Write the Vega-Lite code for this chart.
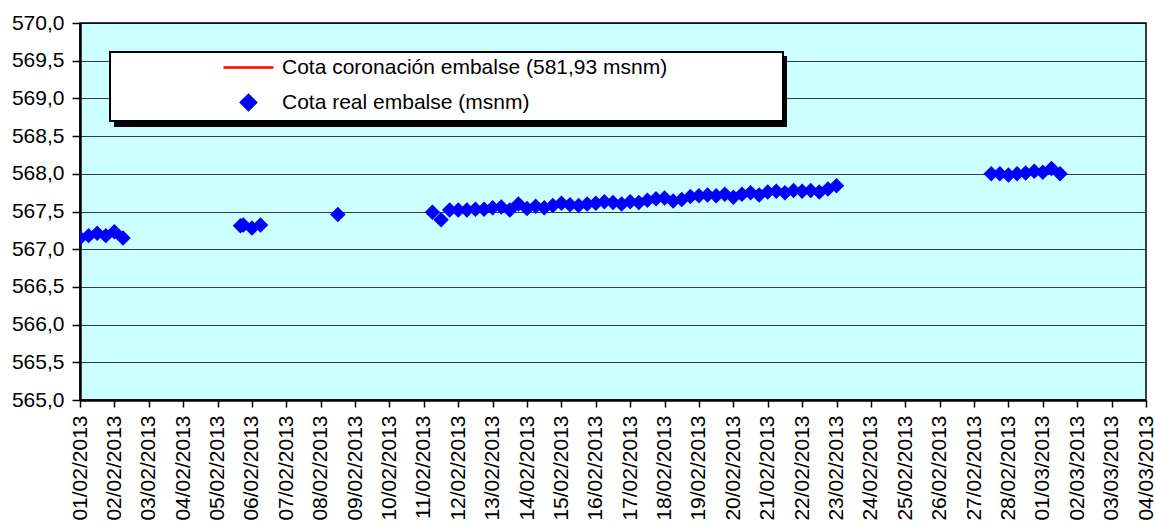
{
  "$schema": "https://vega.github.io/schema/vega-lite/v6.json",
  "width": 1066,
  "height": 377,
  "autosize": "none",
  "padding": {"left": 80, "top": 23, "right": 9, "bottom": 123},
  "background": "#ffffff",
  "config": {
    "font": "Liberation Sans",
    "view": {"fill": "#CCFFFF", "stroke": "#000000", "strokeWidth": 1.5}
  },
  "datasets": {
    "real": [
      {"fecha": "2013-02-01T00:00:00Z", "cota": 567.15, "serie": "Cota real embalse (msnm)"},
      {"fecha": "2013-02-01T06:00:00Z", "cota": 567.18, "serie": "Cota real embalse (msnm)"},
      {"fecha": "2013-02-01T12:00:00Z", "cota": 567.21, "serie": "Cota real embalse (msnm)"},
      {"fecha": "2013-02-01T18:00:00Z", "cota": 567.18, "serie": "Cota real embalse (msnm)"},
      {"fecha": "2013-02-02T00:00:00Z", "cota": 567.23, "serie": "Cota real embalse (msnm)"},
      {"fecha": "2013-02-02T06:00:00Z", "cota": 567.15, "serie": "Cota real embalse (msnm)"},
      {"fecha": "2013-02-05T16:00:00Z", "cota": 567.31, "serie": "Cota real embalse (msnm)"},
      {"fecha": "2013-02-05T18:00:00Z", "cota": 567.32, "serie": "Cota real embalse (msnm)"},
      {"fecha": "2013-02-06T00:00:00Z", "cota": 567.28, "serie": "Cota real embalse (msnm)"},
      {"fecha": "2013-02-06T06:00:00Z", "cota": 567.32, "serie": "Cota real embalse (msnm)"},
      {"fecha": "2013-02-08T12:00:00Z", "cota": 567.46, "serie": "Cota real embalse (msnm)"},
      {"fecha": "2013-02-11T06:00:00Z", "cota": 567.49, "serie": "Cota real embalse (msnm)"},
      {"fecha": "2013-02-11T12:00:00Z", "cota": 567.39, "serie": "Cota real embalse (msnm)"},
      {"fecha": "2013-02-11T18:00:00Z", "cota": 567.52, "serie": "Cota real embalse (msnm)"},
      {"fecha": "2013-02-12T00:00:00Z", "cota": 567.52, "serie": "Cota real embalse (msnm)"},
      {"fecha": "2013-02-12T06:00:00Z", "cota": 567.52, "serie": "Cota real embalse (msnm)"},
      {"fecha": "2013-02-12T12:00:00Z", "cota": 567.53, "serie": "Cota real embalse (msnm)"},
      {"fecha": "2013-02-12T18:00:00Z", "cota": 567.53, "serie": "Cota real embalse (msnm)"},
      {"fecha": "2013-02-13T00:00:00Z", "cota": 567.55, "serie": "Cota real embalse (msnm)"},
      {"fecha": "2013-02-13T06:00:00Z", "cota": 567.56, "serie": "Cota real embalse (msnm)"},
      {"fecha": "2013-02-13T12:00:00Z", "cota": 567.52, "serie": "Cota real embalse (msnm)"},
      {"fecha": "2013-02-13T18:00:00Z", "cota": 567.60, "serie": "Cota real embalse (msnm)"},
      {"fecha": "2013-02-14T00:00:00Z", "cota": 567.54, "serie": "Cota real embalse (msnm)"},
      {"fecha": "2013-02-14T06:00:00Z", "cota": 567.57, "serie": "Cota real embalse (msnm)"},
      {"fecha": "2013-02-14T12:00:00Z", "cota": 567.55, "serie": "Cota real embalse (msnm)"},
      {"fecha": "2013-02-14T18:00:00Z", "cota": 567.58, "serie": "Cota real embalse (msnm)"},
      {"fecha": "2013-02-15T00:00:00Z", "cota": 567.61, "serie": "Cota real embalse (msnm)"},
      {"fecha": "2013-02-15T06:00:00Z", "cota": 567.59, "serie": "Cota real embalse (msnm)"},
      {"fecha": "2013-02-15T12:00:00Z", "cota": 567.58, "serie": "Cota real embalse (msnm)"},
      {"fecha": "2013-02-15T18:00:00Z", "cota": 567.60, "serie": "Cota real embalse (msnm)"},
      {"fecha": "2013-02-16T00:00:00Z", "cota": 567.61, "serie": "Cota real embalse (msnm)"},
      {"fecha": "2013-02-16T06:00:00Z", "cota": 567.63, "serie": "Cota real embalse (msnm)"},
      {"fecha": "2013-02-16T12:00:00Z", "cota": 567.62, "serie": "Cota real embalse (msnm)"},
      {"fecha": "2013-02-16T18:00:00Z", "cota": 567.60, "serie": "Cota real embalse (msnm)"},
      {"fecha": "2013-02-17T00:00:00Z", "cota": 567.63, "serie": "Cota real embalse (msnm)"},
      {"fecha": "2013-02-17T06:00:00Z", "cota": 567.62, "serie": "Cota real embalse (msnm)"},
      {"fecha": "2013-02-17T12:00:00Z", "cota": 567.65, "serie": "Cota real embalse (msnm)"},
      {"fecha": "2013-02-17T18:00:00Z", "cota": 567.67, "serie": "Cota real embalse (msnm)"},
      {"fecha": "2013-02-18T00:00:00Z", "cota": 567.68, "serie": "Cota real embalse (msnm)"},
      {"fecha": "2013-02-18T06:00:00Z", "cota": 567.64, "serie": "Cota real embalse (msnm)"},
      {"fecha": "2013-02-18T12:00:00Z", "cota": 567.66, "serie": "Cota real embalse (msnm)"},
      {"fecha": "2013-02-18T18:00:00Z", "cota": 567.70, "serie": "Cota real embalse (msnm)"},
      {"fecha": "2013-02-19T00:00:00Z", "cota": 567.71, "serie": "Cota real embalse (msnm)"},
      {"fecha": "2013-02-19T06:00:00Z", "cota": 567.72, "serie": "Cota real embalse (msnm)"},
      {"fecha": "2013-02-19T12:00:00Z", "cota": 567.71, "serie": "Cota real embalse (msnm)"},
      {"fecha": "2013-02-19T18:00:00Z", "cota": 567.73, "serie": "Cota real embalse (msnm)"},
      {"fecha": "2013-02-20T00:00:00Z", "cota": 567.69, "serie": "Cota real embalse (msnm)"},
      {"fecha": "2013-02-20T06:00:00Z", "cota": 567.73, "serie": "Cota real embalse (msnm)"},
      {"fecha": "2013-02-20T12:00:00Z", "cota": 567.75, "serie": "Cota real embalse (msnm)"},
      {"fecha": "2013-02-20T18:00:00Z", "cota": 567.72, "serie": "Cota real embalse (msnm)"},
      {"fecha": "2013-02-21T00:00:00Z", "cota": 567.76, "serie": "Cota real embalse (msnm)"},
      {"fecha": "2013-02-21T06:00:00Z", "cota": 567.77, "serie": "Cota real embalse (msnm)"},
      {"fecha": "2013-02-21T12:00:00Z", "cota": 567.75, "serie": "Cota real embalse (msnm)"},
      {"fecha": "2013-02-21T18:00:00Z", "cota": 567.78, "serie": "Cota real embalse (msnm)"},
      {"fecha": "2013-02-22T00:00:00Z", "cota": 567.77, "serie": "Cota real embalse (msnm)"},
      {"fecha": "2013-02-22T06:00:00Z", "cota": 567.78, "serie": "Cota real embalse (msnm)"},
      {"fecha": "2013-02-22T12:00:00Z", "cota": 567.76, "serie": "Cota real embalse (msnm)"},
      {"fecha": "2013-02-22T18:00:00Z", "cota": 567.80, "serie": "Cota real embalse (msnm)"},
      {"fecha": "2013-02-23T00:00:00Z", "cota": 567.84, "serie": "Cota real embalse (msnm)"},
      {"fecha": "2013-02-27T12:00:00Z", "cota": 568.00, "serie": "Cota real embalse (msnm)"},
      {"fecha": "2013-02-27T18:00:00Z", "cota": 568.00, "serie": "Cota real embalse (msnm)"},
      {"fecha": "2013-02-28T00:00:00Z", "cota": 567.985, "serie": "Cota real embalse (msnm)"},
      {"fecha": "2013-02-28T06:00:00Z", "cota": 568.00, "serie": "Cota real embalse (msnm)"},
      {"fecha": "2013-02-28T12:00:00Z", "cota": 568.01, "serie": "Cota real embalse (msnm)"},
      {"fecha": "2013-02-28T18:00:00Z", "cota": 568.035, "serie": "Cota real embalse (msnm)"},
      {"fecha": "2013-03-01T00:00:00Z", "cota": 568.02, "serie": "Cota real embalse (msnm)"},
      {"fecha": "2013-03-01T06:00:00Z", "cota": 568.07, "serie": "Cota real embalse (msnm)"},
      {"fecha": "2013-03-01T12:00:00Z", "cota": 568.00, "serie": "Cota real embalse (msnm)"}
    ],
    "coronacion": [
      {"fecha": "2013-02-01T00:00:00Z", "cota": 581.93, "serie": "Cota coronación embalse (581,93 msnm)"},
      {"fecha": "2013-03-04T00:00:00Z", "cota": 581.93, "serie": "Cota coronación embalse (581,93 msnm)"}
    ]
  },
  "encoding": {
    "x": {
      "field": "fecha",
      "type": "temporal",
      "title": null,
      "scale": {
        "type": "utc",
        "domain": [
          {"year": 2013, "month": 2, "date": 1, "utc": true},
          {"year": 2013, "month": 3, "date": 4, "utc": true}
        ]
      },
      "axis": {
        "labelExpr": "utcFormat(datum.value, '%d/%m/%Y')",
        "tickCount": {"interval": "day", "step": 1},
        "labelAngle": -90,
        "labelFontSize": 21,
        "labelColor": "#000000",
        "labelPadding": 8,
        "labelOverlap": false,
        "labelFlush": false,
        "grid": false,
        "domainColor": "#000000",
        "domainWidth": 2.5,
        "tickColor": "#000000",
        "tickWidth": 1.5,
        "tickSize": 7
      }
    },
    "y": {
      "field": "cota",
      "type": "quantitative",
      "title": null,
      "scale": {"domain": [565, 570], "nice": false, "zero": false},
      "axis": {
        "values": [565, 565.5, 566, 566.5, 567, 567.5, 568, 568.5, 569, 569.5, 570],
        "labelExpr": "replace(format(datum.value, '.1f'), '.', ',')",
        "labelFontSize": 21,
        "labelColor": "#000000",
        "labelPadding": 8,
        "grid": true,
        "gridColor": "#000000",
        "gridWidth": 1,
        "gridOpacity": 0.75,
        "domainColor": "#000000",
        "domainWidth": 2.5,
        "tickColor": "#000000",
        "tickWidth": 1.5,
        "tickSize": 8
      }
    },
    "color": {
      "field": "serie",
      "type": "nominal",
      "scale": {
        "domain": ["Cota coronación embalse (581,93 msnm)", "Cota real embalse (msnm)"],
        "range": ["#FF0000", "#0000FF"]
      },
      "legend": {
        "title": "\u00a0",
        "titleOrient": "right",
        "titlePadding": 111,
        "titleColor": "#ffffff",
        "titleFontSize": 10,
        "orient": "none",
        "legendX": 30,
        "legendY": 29,
        "zindex": 2,
        "direction": "vertical",
        "fillColor": "#ffffff",
        "strokeColor": "#000000",
        "padding": 5,
        "symbolOffset": 123,
        "symbolSize": 230,
        "labelOffset": 23,
        "rowPadding": 11,
        "labelFontSize": 21,
        "labelColor": "#000000",
        "labelLimit": 1000,
        "encode": {
          "legend": {
            "update": {
              "strokeWidth": {"value": 2}
            }
          },
          "symbols": {
            "update": {
              "shape": {"signal": "datum.value === 'Cota real embalse (msnm)' ? 'diamond' : 'M-3.3,0L3.3,0'"},
              "size": {"value": 230},
              "fill": {"signal": "datum.value === 'Cota real embalse (msnm)' ? '#0000FF' : 'transparent'"},
              "stroke": {"signal": "datum.value === 'Cota real embalse (msnm)' ? 'transparent' : '#FF0000'"},
              "strokeWidth": {"value": 2.5},
              "opacity": {"value": 1},
              "fillOpacity": {"value": 1},
              "strokeOpacity": {"value": 1}
            }
          }
        }
      }
    }
  },
  "layer": [
    {
      "data": {"name": "coronacion"},
      "mark": {"type": "line", "clip": true, "strokeWidth": 2.5},
      "encoding": {
        "strokeDash": {
          "field": "serie",
          "type": "nominal",
          "scale": {
            "domain": ["Cota real embalse (msnm)", "Cota coronación embalse (581,93 msnm)"],
            "range": [[1, 0], [1, 0]]
          },
          "legend": {
            "title": "\u00a0",
            "titleOrient": "right",
            "titlePadding": 494,
            "titleColor": "#000000",
            "titleFontSize": 10,
            "orient": "none",
            "legendX": 35,
            "legendY": 34,
            "zindex": 1,
            "direction": "vertical",
            "fillColor": "#000000",
            "strokeColor": "#000000",
            "padding": 5,
            "symbolOffset": 123,
            "symbolSize": 230,
            "labelOffset": 23,
            "rowPadding": 8,
            "labelFontSize": 21,
            "labelColor": "#000000",
            "labelLimit": 1000,
            "labelExpr": "'\u00a0'",
            "encode": {
              "legend": {
                "update": {
                  "strokeWidth": {"value": 2}
                }
              },
              "symbols": {
                "update": {
                  "shape": {"value": "square"},
                  "size": {"value": 230},
                  "fill": {"value": "#000000"},
                  "stroke": {"value": "#000000"},
                  "strokeWidth": {"value": 2.5}
                }
              }
            }
          }
        }
      }
    },
    {
      "data": {"name": "real"},
      "mark": {"type": "point", "shape": "diamond", "filled": true, "size": 240, "opacity": 1, "clip": true}
    }
  ]
}
